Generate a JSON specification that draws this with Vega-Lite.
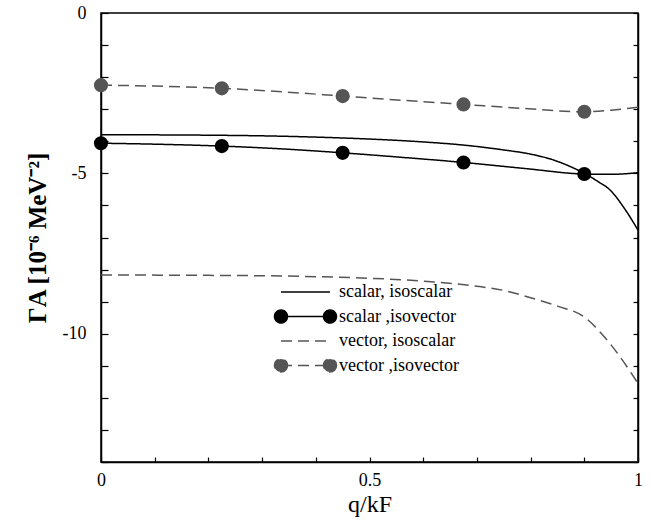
{
  "$schema": "https://vega.github.io/schema/vega-lite/v6.json",
  "width": 537,
  "height": 449,
  "autosize": {"type": "none"},
  "padding": {"left": 101, "top": 13, "right": 21, "bottom": 58},
  "background": "white",
  "config": {
    "font": "Liberation Serif",
    "view": {"stroke": "black", "strokeWidth": 1.5},
    "axis": {
      "labelFont": "Liberation Serif",
      "titleFont": "Liberation Serif",
      "labelFontSize": 18,
      "labelColor": "black",
      "titleColor": "black",
      "domainColor": "black",
      "domainWidth": 1.5,
      "tickColor": "black",
      "tickWidth": 1.2,
      "grid": false
    },
    "legend": {
      "labelFont": "Liberation Serif",
      "labelFontSize": 18,
      "labelColor": "black"
    }
  },
  "datasets": {
    "lines": [
      {"series": "scalar, isoscalar", "q": 0, "g": -3.80},
      {"series": "scalar, isoscalar", "q": 0.1, "g": -3.80},
      {"series": "scalar, isoscalar", "q": 0.2, "g": -3.81},
      {"series": "scalar, isoscalar", "q": 0.3, "g": -3.83},
      {"series": "scalar, isoscalar", "q": 0.4, "g": -3.87},
      {"series": "scalar, isoscalar", "q": 0.5, "g": -3.93},
      {"series": "scalar, isoscalar", "q": 0.6, "g": -4.02},
      {"series": "scalar, isoscalar", "q": 0.676, "g": -4.12},
      {"series": "scalar, isoscalar", "q": 0.75, "g": -4.27},
      {"series": "scalar, isoscalar", "q": 0.8, "g": -4.40},
      {"series": "scalar, isoscalar", "q": 0.842, "g": -4.58},
      {"series": "scalar, isoscalar", "q": 0.87, "g": -4.76},
      {"series": "scalar, isoscalar", "q": 0.9, "g": -5.00},
      {"series": "scalar, isoscalar", "q": 0.925, "g": -5.25},
      {"series": "scalar, isoscalar", "q": 0.948, "g": -5.52},
      {"series": "scalar, isoscalar", "q": 0.975, "g": -6.10},
      {"series": "scalar, isoscalar", "q": 1, "g": -6.77},
      {"series": "scalar ,isovector", "q": 0, "g": -4.06},
      {"series": "scalar ,isovector", "q": 0.1, "g": -4.09},
      {"series": "scalar ,isovector", "q": 0.225, "g": -4.15},
      {"series": "scalar ,isovector", "q": 0.34, "g": -4.24},
      {"series": "scalar ,isovector", "q": 0.45, "g": -4.36},
      {"series": "scalar ,isovector", "q": 0.56, "g": -4.50},
      {"series": "scalar ,isovector", "q": 0.675, "g": -4.66},
      {"series": "scalar ,isovector", "q": 0.79, "g": -4.85},
      {"series": "scalar ,isovector", "q": 0.9, "g": -5.02},
      {"series": "scalar ,isovector", "q": 0.95, "g": -5.03},
      {"series": "scalar ,isovector", "q": 1, "g": -4.98},
      {"series": "vector, isoscalar", "q": 0, "g": -8.17},
      {"series": "vector, isoscalar", "q": 0.2, "g": -8.18},
      {"series": "vector, isoscalar", "q": 0.4, "g": -8.22},
      {"series": "vector, isoscalar", "q": 0.5, "g": -8.27},
      {"series": "vector, isoscalar", "q": 0.6, "g": -8.36},
      {"series": "vector, isoscalar", "q": 0.7, "g": -8.52},
      {"series": "vector, isoscalar", "q": 0.75, "g": -8.65},
      {"series": "vector, isoscalar", "q": 0.8, "g": -8.88},
      {"series": "vector, isoscalar", "q": 0.85, "g": -9.14},
      {"series": "vector, isoscalar", "q": 0.9, "g": -9.48},
      {"series": "vector, isoscalar", "q": 0.94, "g": -10.15},
      {"series": "vector, isoscalar", "q": 0.97, "g": -10.8},
      {"series": "vector, isoscalar", "q": 1, "g": -11.55},
      {"series": "vector ,isovector", "q": 0, "g": -2.25},
      {"series": "vector ,isovector", "q": 0.1, "g": -2.28},
      {"series": "vector ,isovector", "q": 0.225, "g": -2.35},
      {"series": "vector ,isovector", "q": 0.34, "g": -2.46},
      {"series": "vector ,isovector", "q": 0.45, "g": -2.59},
      {"series": "vector ,isovector", "q": 0.56, "g": -2.72},
      {"series": "vector ,isovector", "q": 0.675, "g": -2.85},
      {"series": "vector ,isovector", "q": 0.79, "g": -2.98},
      {"series": "vector ,isovector", "q": 0.9, "g": -3.08},
      {"series": "vector ,isovector", "q": 0.95, "g": -3.03},
      {"series": "vector ,isovector", "q": 1, "g": -2.94}
    ],
    "dots": [
      {"series": "scalar ,isovector", "q": 0, "g": -4.06},
      {"series": "scalar ,isovector", "q": 0.225, "g": -4.15},
      {"series": "scalar ,isovector", "q": 0.45, "g": -4.36},
      {"series": "scalar ,isovector", "q": 0.675, "g": -4.66},
      {"series": "scalar ,isovector", "q": 0.9, "g": -5.02},
      {"series": "vector ,isovector", "q": 0, "g": -2.25},
      {"series": "vector ,isovector", "q": 0.225, "g": -2.35},
      {"series": "vector ,isovector", "q": 0.45, "g": -2.59},
      {"series": "vector ,isovector", "q": 0.675, "g": -2.85},
      {"series": "vector ,isovector", "q": 0.9, "g": -3.08}
    ]
  },
  "resolve": {"axis": {"y": "independent", "x": "independent"}},
  "layer": [
    {
      "data": {"name": "lines"},
      "mark": {"type": "line", "interpolate": "monotone", "strokeWidth": 1.5, "clip": true},
      "encoding": {
        "x": {
          "field": "q", "type": "quantitative",
          "scale": {"domain": [0, 1], "nice": false, "zero": false},
          "axis": {
            "values": [0, 0.1, 0.2, 0.3, 0.4, 0.5, 0.6, 0.7, 0.8, 0.9, 1],
            "labelExpr": "datum.value === 0 || datum.value === 0.5 || datum.value === 1 ? toString(datum.value) : ''",
            "tickSize": -5,
            "labelPadding": 14,
            "labelFlush": false,
            "title": "q/kF",
            "titleFontSize": 24,
            "titleFontWeight": "normal",
            "titlePadding": 3
          }
        },
        "y": {
          "field": "g", "type": "quantitative",
          "scale": {"domain": [-14, 0], "nice": false, "zero": false},
          "axis": {
            "values": [-14, -13, -12, -11, -10, -9, -8, -7, -6, -5, -4, -3, -2, -1, 0],
            "labelExpr": "datum.value % 5 === 0 ? toString(datum.value) : ''",
            "tickSize": -7,
            "labelPadding": 22,
            "labelFlush": false,
            "title": "ΓA  [10⁻⁶ MeV⁻²]",
            "titleFontSize": 25,
            "titleFontWeight": "bold",
            "titlePadding": 12
          }
        },
        "detail": {"field": "series"},
        "color": {
          "field": "series", "type": "nominal",
          "scale": {
            "domain": ["scalar, isoscalar", "scalar ,isovector", "vector, isoscalar", "vector ,isovector"],
            "range": ["#000000", "#000000", "#555555", "#555555"]
          },
          "legend": {
            "orient": "none",
            "legendX": 195.5,
            "legendY": 270,
            "title": null,
            "padding": 0,
            "symbolSize": 169,
            "labelOffset": 24.5,
            "rowPadding": 5.5,
            "symbolStrokeWidth": 1.5,
            "encode": {
              "symbols": {
                "update": {
                  "shape": {"signal": "indexof(datum.value, 'isovector') >= 0 ? 'M-3.77,0L3.77,0M-2.77,0A1,1 0 1,1 -4.77,0A1,1 0 1,1 -2.77,0M4.77,0A1,1 0 1,1 2.77,0A1,1 0 1,1 4.77,0' : 'M-3.77,0L3.77,0'"},
                  "fill": {"scale": "color", "field": "value"},
                  "stroke": {"scale": "color", "field": "value"},
                  "strokeDash": {"scale": "strokeDash", "field": "value"},
                  "strokeWidth": {"value": 1.5},
                  "opacity": {"value": 1}
                }
              }
            }
          }
        },
        "strokeDash": {
          "field": "series", "type": "nominal",
          "scale": {
            "domain": ["scalar, isoscalar", "scalar ,isovector", "vector, isoscalar", "vector ,isovector"],
            "range": [[1, 0], [1, 0], [11, 6], [11, 6]]
          },
          "legend": null
        }
      }
    },
    {
      "data": {"name": "dots"},
      "mark": {"type": "point", "filled": true, "shape": "circle", "size": 200, "opacity": 1},
      "encoding": {
        "x": {"field": "q", "type": "quantitative", "axis": {"orient": "top", "labels": false, "ticks": false, "domain": false, "title": null}},
        "y": {
          "field": "g", "type": "quantitative",
          "axis": {
            "orient": "right",
            "values": [-14, -13, -12, -11, -10, -9, -8, -7, -6, -5, -4, -3, -2, -1, 0],
            "labels": false,
            "tickSize": -5,
            "title": null
          }
        },
        "color": {"field": "series", "type": "nominal"}
      }
    }
  ]
}
